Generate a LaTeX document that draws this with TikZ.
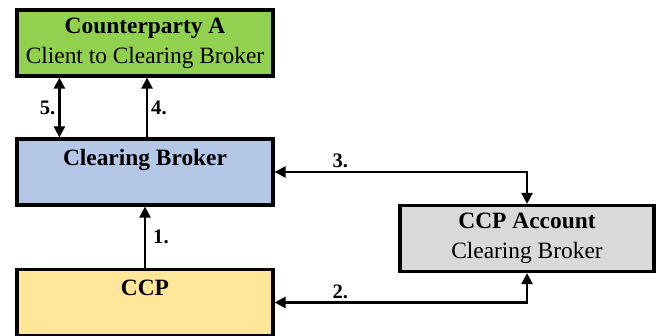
\documentclass[tikz,border=0pt]{standalone}
\usepackage{fontspec}
\setmainfont{Liberation Serif}
\usepackage{xcolor}
\usepackage{tikz}
\usetikzlibrary{arrows.meta, calc}

\definecolor{cpgreen}{RGB}{146,208,80}
\definecolor{cbblue}{RGB}{180,199,231}
\definecolor{ccpyellow}{RGB}{255,230,153}
\definecolor{accgray}{RGB}{217,217,217}

\tikzset{
  box/.style={draw=black, line width=1.6pt, minimum width=128pt, minimum height=33pt,
    align=center, inner sep=0pt, font=\fontsize{11.7}{15}\selectfont},
  flow/.style={line width=1.2pt, -{Triangle[length=5.5pt,width=5.5pt]}},
  twoway/.style={line width=1.2pt, {Triangle[length=5.5pt,width=5.5pt]}-{Triangle[length=5.5pt,width=5.5pt]}},
  step label/.style={font=\fontsize{10.3}{12}\selectfont\bfseries, inner sep=1.5pt}
}

\begin{document}
\begin{tikzpicture}[x=0.5pt, y=0.5pt]
    % canvas
    \useasboundingbox (0,0) rectangle (657,336);

    % the four parties
    \node[box, fill=cpgreen] (cpa) at (145,293) {\textbf{Counterparty A}\\Client to Clearing Broker};
    \node[box, fill=cbblue] (cb) at (145,164) {\textbf{Clearing Broker}\\\mbox{}};
    \node[box, fill=ccpyellow] (ccp) at (145,33.5) {\textbf{CCP}\\\mbox{}};
    \node[box, fill=accgray, minimum width=127pt] (acc) at (527,97.5) {\textbf{CCP Account}\\Clearing Broker};

    % vertical flows
    \draw[twoway] ([xshift=22pt]cpa.south west) -- node[step label, left] {5.} ([xshift=22pt]cb.north west);
    \draw[flow] ([xshift=1pt]cb.north) -- node[step label, right] {4.} ([xshift=1pt]cpa.south);
    \draw[flow] (ccp.north) -- node[step label, right, xshift=2pt] {1.} (cb.south);

    % flows to the CCP account
    \draw[twoway] (cb.east) -| node[step label, above, pos=0.13] {3.} (acc.north);
    \draw[twoway] (ccp.east) -| node[step label, above, pos=0.13] {2.} (acc.south);
\end{tikzpicture}
\end{document}
